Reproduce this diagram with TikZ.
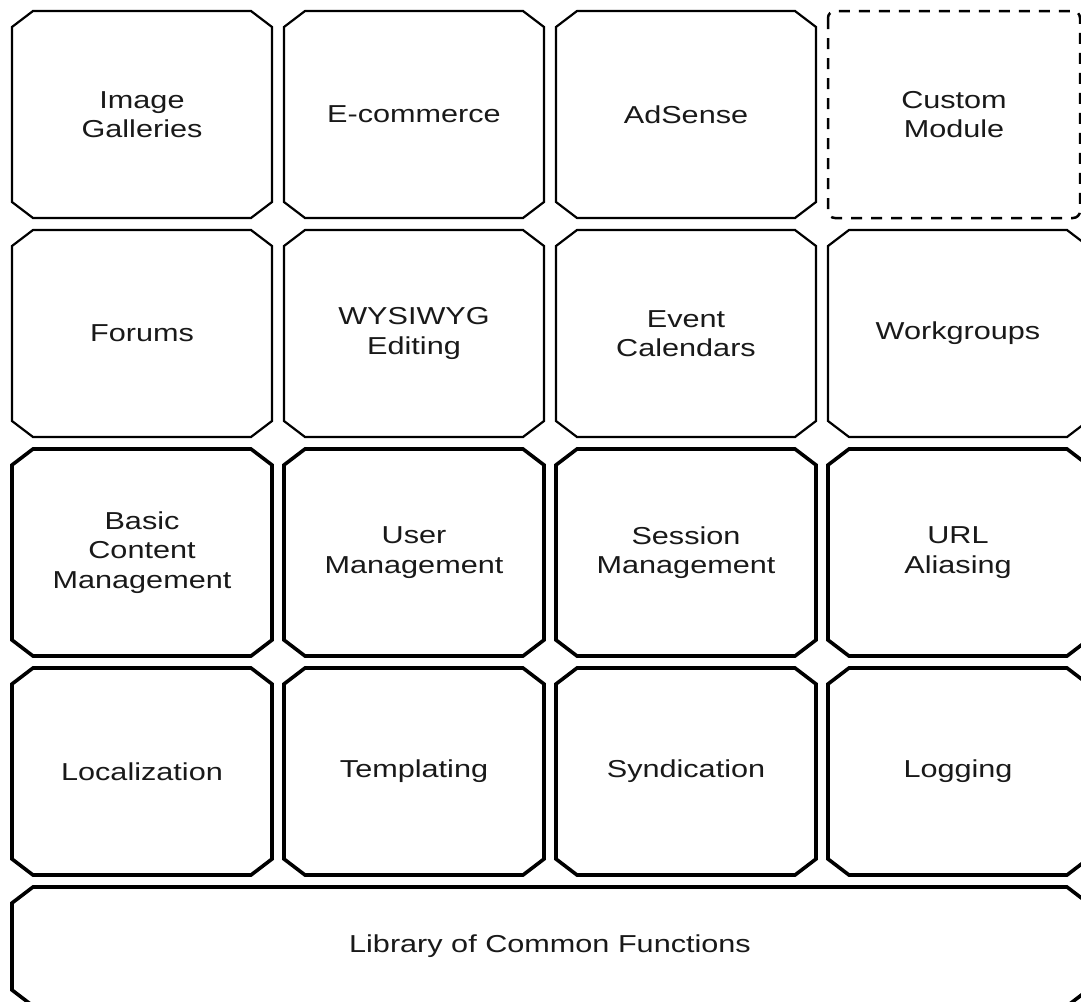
\documentclass[tikz,border=0pt]{standalone}
\usepackage{fontspec}
\setmainfont{Liberation Sans}[FakeStretch=1.25]
\begin{document}
\begin{tikzpicture}[x=1pt,y=-1pt,
  lbl/.style={align=center,font=\fontsize{24.5}{29.5}\selectfont,text=black!90,inner sep=0pt},
  thinbox/.style={draw=black,line width=2.2pt},
  thickbox/.style={draw=black,line width=3.6pt},
  dashbox/.style={draw=black,line width=2.5pt,dash pattern=on 11pt off 9pt,rounded corners=7pt}]
\useasboundingbox[fill=white] (0,0) rectangle (1081,1001);
\newcommand\chbox[7]{%
  \draw[#1] ({#3+21},#4) -- ({#5-21},#4) -- (#5,{#4+16}) -- (#5,{#6-16}) -- ({#5-21},#6)
     -- ({#3+21},#6) -- (#3,{#6-16}) -- (#3,{#4+16}) -- cycle;
  \node[lbl] (#2) at ({(#3+#5)/2},{(#4+#6)/2}) {#7};}
% row 1
\chbox{thinbox}{gal}{12}{11}{272}{218}{Image\\Galleries}
\chbox{thinbox}{ecom}{284}{11}{544}{218}{E-commerce}
\chbox{thinbox}{ads}{556}{11}{816}{218}{AdSense}
\draw[dashbox] (828,11) rectangle (1080,218);
\node[lbl] (cust) at (954,114.5) {Custom\\Module};
% row 2
\chbox{thinbox}{for}{12}{230}{272}{437}{Forums}
\chbox{thinbox}{wys}{284}{230}{544}{437}{WYSIWYG\\Editing}
\chbox{thinbox}{evt}{556}{230}{816}{437}{Event\\Calendars}
\chbox{thinbox}{wkg}{828}{230}{1088}{437}{Workgroups}
% row 3
\chbox{thickbox}{bcm}{12}{449}{272}{656}{Basic\\Content\\Management}
\chbox{thickbox}{usr}{284}{449}{544}{656}{User\\Management}
\chbox{thickbox}{ses}{556}{449}{816}{656}{Session\\Management}
\chbox{thickbox}{url}{828}{449}{1088}{656}{URL\\Aliasing}
% row 4
\chbox{thickbox}{loc}{12}{668}{272}{875}{Localization}
\chbox{thickbox}{tpl}{284}{668}{544}{875}{Templating}
\chbox{thickbox}{syn}{556}{668}{816}{875}{Syndication}
\chbox{thickbox}{log}{828}{668}{1088}{875}{Logging}
% row 5
\chbox{thickbox}{lib}{12}{887}{1088}{1006}{Library of Common Functions}
\end{tikzpicture}
\end{document}
